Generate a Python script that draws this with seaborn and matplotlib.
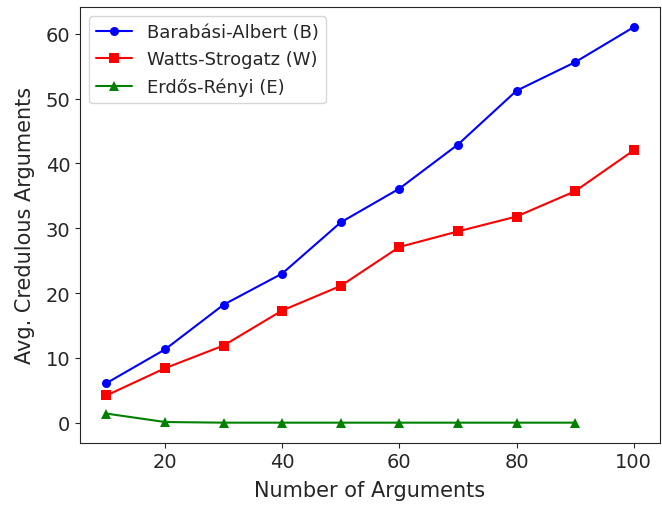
import matplotlib
matplotlib.use("Agg")
import matplotlib.pyplot as plt
import seaborn as sns
import pandas as pd

# Average number of credulous arguments per graph model
n_args = [10, 20, 30, 40, 50, 60, 70, 80, 90, 100]
barabasi = [6.1, 11.3, 18.2, 23.0, 30.9, 36.1, 42.9, 51.2, 55.6, 61.0]
watts = [4.2, 8.4, 11.9, 17.3, 21.1, 27.1, 29.5, 31.8, 35.7, 42.0]
erdos_x = [10, 20, 30, 40, 50, 60, 70, 80, 90]
erdos = [1.4, 0.1, 0.0, 0.0, 0.0, 0.0, 0.0, 0.0, 0.0]

labels = ["Barabási-Albert (B)", "Watts-Strogatz (W)", "Erdős-Rényi (E)"]
colors = ["blue", "red", "green"]
markers = ["o", "s", "^"]

df = pd.concat([
    pd.DataFrame({"n": n_args, "v": barabasi, "model": labels[0]}),
    pd.DataFrame({"n": n_args, "v": watts, "model": labels[1]}),
    pd.DataFrame({"n": erdos_x, "v": erdos, "model": labels[2]}),
])

sns.set_style("ticks")
plt.rcParams["font.family"] = ["DejaVu Sans"]

fig, ax = plt.subplots(figsize=(6.62, 5.06), dpi=100)
fig.subplots_adjust(left=0.121, right=0.997, top=0.984, bottom=0.123)

for lab, col, mk in zip(labels, colors, markers):
    sub = df[df["model"] == lab]
    sns.lineplot(data=sub, x="n", y="v", ax=ax, color=col, marker=mk,
                 markersize=6.5, markeredgewidth=0, linewidth=1.5, label=lab)

ax.set_xlabel("Number of Arguments", fontsize=15, labelpad=6)
ax.set_ylabel("Avg. Credulous Arguments", fontsize=15, labelpad=8)
ax.tick_params(labelsize=14)
ax.set_xticks([20, 40, 60, 80, 100])
ax.set_yticks([0, 10, 20, 30, 40, 50, 60])
ax.set_xlim(5.5, 104.5)
ax.set_ylim(-3.1, 64.1)
ax.legend(loc="upper left", fontsize=13, frameon=True)

fig.savefig("out.png", dpi=100)
